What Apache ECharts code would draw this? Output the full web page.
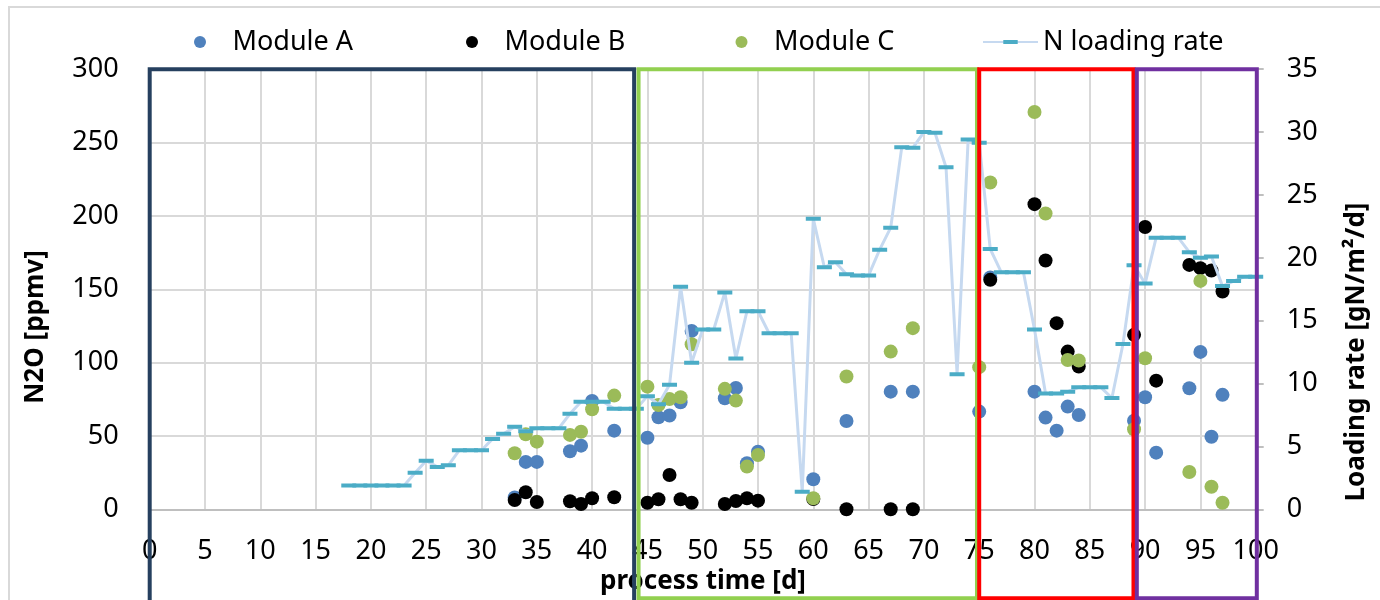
<!DOCTYPE html>
<html>
<head>
<meta charset="utf-8">
<script src="https://cdn.jsdelivr.net/npm/echarts@6/dist/echarts.min.js"></script>
<style>
  html, body { margin: 0; padding: 0; background: #ffffff; }
  #chart { width: 1380px; height: 600px; }
</style>
</head>
<body>
<div id="chart"></div>
<script>
// Module measurements: N2O concentration [ppmv] per process day
const moduleADays = [33, 34, 35, 38, 39, 40, 42, 45, 46, 47, 48, 49, 52, 53, 54, 55, 60, 63, 67, 69, 75, 76, 80, 81, 82, 83, 84, 89, 90, 91, 94, 95, 96, 97];
const moduleAVals = [8, 32.3, 32.3, 39.6, 43.4, 73.9, 53.6, 48.8, 62.7, 63.9, 73.0, 121.6, 75.7, 82.7, 31.4, 39.3, 20.5, 60.2, 80.2, 80.2, 66.6, 158, 80.2, 62.5, 53.6, 70.0, 64.3, 60.4, 76.4, 38.6, 82.5, 107.3, 49.5, 78.0];

const moduleBDays = [33, 34, 35, 38, 39, 40, 42, 45, 46, 47, 48, 49, 52, 53, 54, 55, 60, 63, 67, 69, 76, 80, 81, 82, 83, 84, 89, 90, 91, 94, 95, 96, 97];
const moduleBVals = [6.3, 11.6, 5.0, 5.5, 3.6, 7.5, 8.2, 4.5, 6.8, 23.4, 6.8, 4.5, 3.6, 5.7, 7.5, 5.9, 7, 0, 0, 0, 156.4, 208.0, 169.6, 126.9, 107.5, 97.3, 118.9, 192.4, 87.7, 166.6, 164.4, 162.8, 148.5];

const moduleCDays = [33, 34, 35, 38, 39, 40, 42, 45, 46, 47, 48, 49, 52, 53, 54, 55, 60, 63, 67, 69, 75, 76, 80, 81, 83, 84, 89, 90, 94, 95, 96, 97];
const moduleCVals = [38.2, 51.2, 46.1, 50.7, 52.9, 68.2, 77.5, 83.6, 71.1, 75.2, 76.4, 112.5, 82.1, 74.1, 29.1, 37.0, 7.5, 90.5, 107.5, 123.5, 96.9, 222.8, 270.8, 201.6, 101.8, 101.4, 54.6, 103.0, 25.4, 155.7, 15.4, 4.5];

// Daily N loading rate [gN/m²/d]
const rateDays = [18, 19, 20, 21, 22, 23, 24, 25, 26, 27, 28, 29, 30, 31, 32, 33, 34, 35, 36, 37, 38, 39, 40, 41, 42, 43, 44,
  45, 46, 47, 48, 49, 50, 51, 52, 53, 54, 55, 56, 57, 58, 59, 60, 61, 62, 63, 64, 65, 66, 67, 68, 69, 70, 71, 72, 73, 74,
  75, 76, 77, 78, 79, 80, 81, 82, 83, 84, 85, 86, 87, 88, 89, 90, 91, 92, 93, 94, 95, 96, 97, 98, 99, 100];
const rateVals = [1.9, 1.9, 1.9, 1.9, 1.9, 1.9, 2.9, 3.87, 3.37, 3.5, 4.7, 4.7, 4.7, 5.6, 6.0, 6.57, 6.2, 6.45, 6.45, 6.45, 7.6, 8.55, 8.55, 8.55, 8.0, 8.0, 8.0,
  9.0, 8.35, 9.9, 17.7, 11.65, 14.3, 14.3, 17.25, 12.0, 15.75, 15.75, 14.0, 14.0, 14.0, 1.4, 23.1, 19.25, 19.65, 18.7, 18.6, 18.6, 20.65, 22.4, 28.8, 28.75, 30.0, 29.95, 27.2, 10.75, 29.4,
  29.15, 20.7, 18.85, 18.85, 18.85, 14.3, 9.2, 9.2, 9.35, 9.7, 9.7, 9.7, 8.85, 13.15, 19.4, 17.95, 21.6, 21.6, 21.6, 20.45, 20.0, 20.1, 17.75, 18.15, 18.5, 18.5];

// Operating phases (start / end day)
const phaseStart = [0, 44.2, 75.0, 89.25];
const phaseEnd = [43.8, 74.8, 88.95, 100.1];

const FONT = '"Noto Sans", sans-serif';
const phaseColors = ['#26405f', '#92d050', '#ff0000', '#7030a0'];
const phaseDrop = [100, 89, 89, 89];

// Dash marker for the loading-rate series (square bounding box keeps the legend icon flat)
const dashSymbol = 'path://M0,0L0.01,0L0.01,0.01Z M0,5.5L15,5.5L15,9.5L0,9.5Z M14.99,14.99L15,14.99L15,15Z';

const pairs = (xs, ys) => xs.map((x, i) => [x, ys[i]]);

const chart = echarts.init(document.getElementById('chart'), null, { renderer: 'canvas' });

const legendBase = {
  top: 27, padding: 0, itemWidth: 55, itemHeight: 12,
  textStyle: { fontSize: 27, lineHeight: 30, color: '#000', fontFamily: FONT }
};

chart.setOption({
  animation: false,
  backgroundColor: '#ffffff',
  textStyle: { fontFamily: FONT },
  grid: { left: 149.7, right: 124.3, top: 69.2, bottom: 90.7, containLabel: false },
  legend: [
    Object.assign({}, legendBase, { left: 194, data: ['Module A'] }),
    Object.assign({}, legendBase, { left: 466, data: ['Module B'] }),
    Object.assign({}, legendBase, { left: 735.5, data: ['Module C'] }),
    Object.assign({}, legendBase, { left: 982, itemHeight: 18, data: ['N loading rate'] })
  ],
  xAxis: {
    type: 'value', min: 0, max: 100, interval: 5,
    axisLine: { show: true, onZero: false, lineStyle: { color: '#bfbfbf', width: 2 } },
    axisTick: { show: false },
    axisLabel: { fontSize: 27, color: '#000', margin: 29, fontFamily: FONT },
    splitLine: { show: true, lineStyle: { color: '#d9d9d9', width: 2 } }
  },
  yAxis: [
    {
      type: 'value', min: 0, max: 300, interval: 50,
      axisLine: { show: false }, axisTick: { show: false },
      axisLabel: { fontSize: 27, color: '#000', margin: 31, fontFamily: FONT },
      splitLine: { show: true, lineStyle: { color: '#d9d9d9', width: 2 } }
    },
    {
      type: 'value', min: 0, max: 35, interval: 5, position: 'right',
      axisLine: { show: true, lineStyle: { color: '#bfbfbf', width: 2 } },
      axisTick: { show: true, inside: false, length: 8, lineStyle: { color: '#bfbfbf', width: 2 } },
      axisLabel: { fontSize: 27, color: '#000', margin: 31, fontFamily: FONT },
      splitLine: { show: false }
    }
  ],
  graphic: [
    { type: 'rect', z: -1, shape: { x: 9, y: 7, width: 1400, height: 700 }, style: { fill: 'none', stroke: '#d9d9d9', lineWidth: 2 } },
    { type: 'text', x: 36, y: 327, rotation: Math.PI / 2, z: 1,
      style: { text: 'N2O [ppmv]', fontSize: 26, fontWeight: 'bold', fontFamily: FONT, fill: '#000', align: 'center', verticalAlign: 'middle' } },
    { type: 'text', x: 1357, y: 352, rotation: Math.PI / 2, z: 1,
      style: { text: 'Loading rate [gN/m²/d]', fontSize: 26, fontWeight: 'bold', fontFamily: FONT, fill: '#000', align: 'center', verticalAlign: 'middle' } },
    { type: 'text', x: 703, y: 582, z: 1,
      style: { text: 'process time [d]', fontSize: 26, fontWeight: 'bold', fontFamily: FONT, fill: '#000', align: 'center', verticalAlign: 'middle' } }
  ],
  series: [
    {
      name: 'Module A', type: 'scatter', yAxisIndex: 0, z: 3,
      symbol: 'circle', symbolSize: 14,
      itemStyle: { color: '#4f81bd', opacity: 1 },
      data: pairs(moduleADays, moduleAVals)
    },
    {
      name: 'Module B', type: 'scatter', yAxisIndex: 0, z: 4,
      symbol: 'circle', symbolSize: 14,
      itemStyle: { color: '#000000', opacity: 1 },
      data: pairs(moduleBDays, moduleBVals)
    },
    {
      name: 'Module C', type: 'scatter', yAxisIndex: 0, z: 5,
      symbol: 'circle', symbolSize: 14,
      itemStyle: { color: '#9bbb59', opacity: 1 },
      data: pairs(moduleCDays, moduleCVals)
    },
    {
      name: 'N loading rate', type: 'line', yAxisIndex: 1, z: 6,
      symbol: dashSymbol, symbolSize: 15, showAllSymbol: true,
      lineStyle: { color: '#c6d9f0', width: 3 },
      itemStyle: { color: '#4bacc6' },
      data: pairs(rateDays, rateVals)
    },
    {
      name: 'phases', type: 'custom', yAxisIndex: 0, z: 10, clip: false, silent: true,
      encode: { x: [0, 1] },
      data: pairs(phaseStart, phaseEnd),
      renderItem: function (params, api) {
        const i = params.dataIndex;
        const tl = api.coord([api.value(0), 300]);
        const br = api.coord([api.value(1), 0]);
        return {
          type: 'rect',
          shape: { x: tl[0], y: tl[1], width: br[0] - tl[0], height: br[1] - tl[1] + phaseDrop[i] },
          style: { fill: 'none', stroke: phaseColors[i], lineWidth: 4 }
        };
      }
    }
  ]
});
</script>
</body>
</html>
